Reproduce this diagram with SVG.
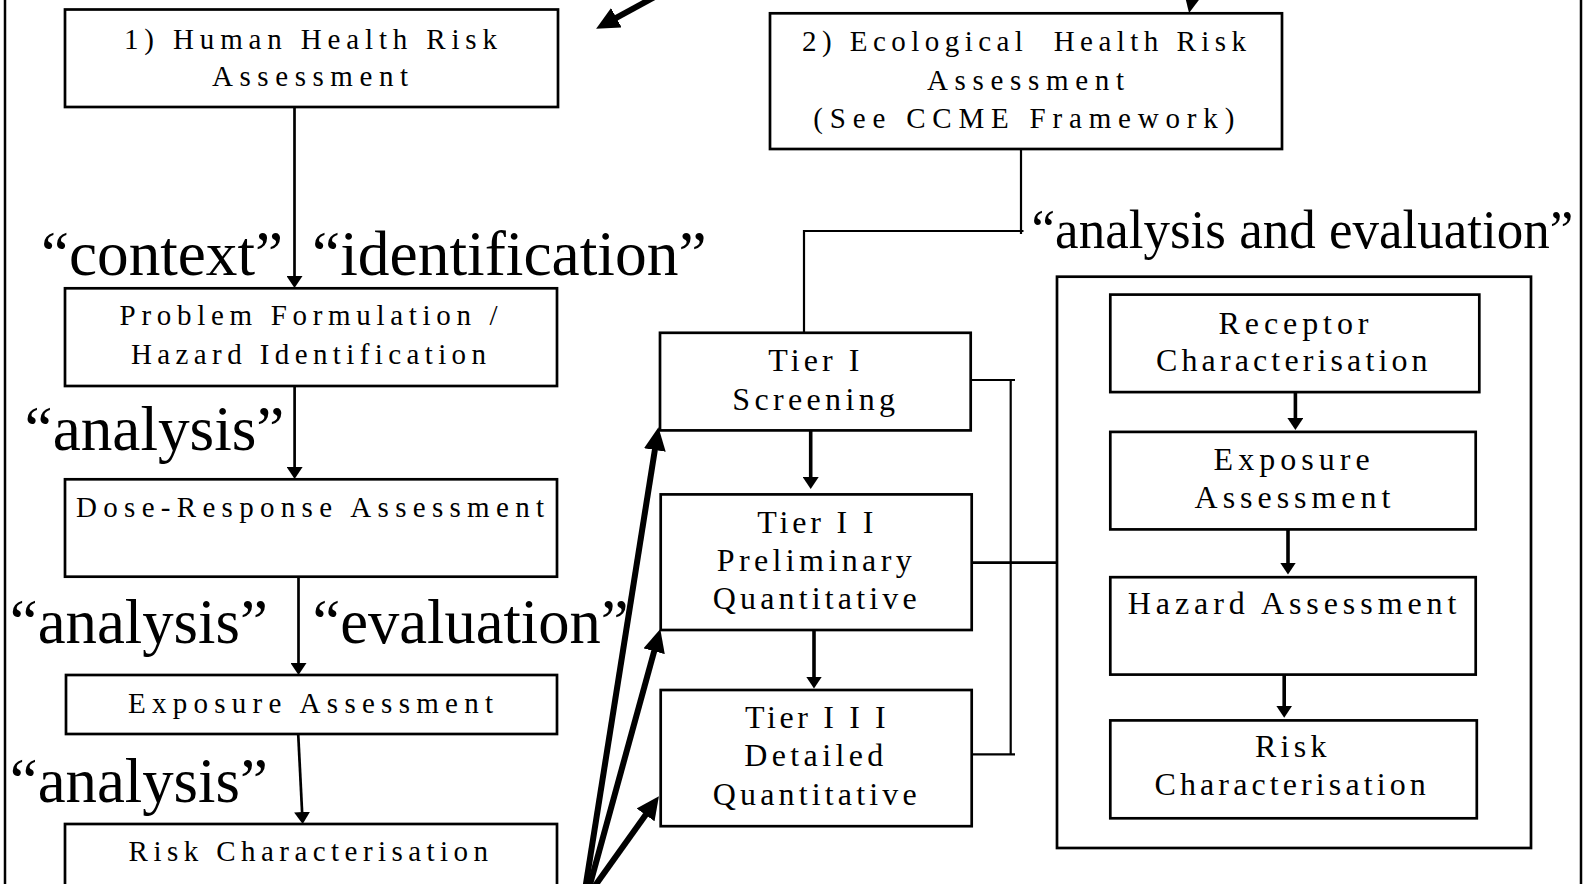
<svg xmlns="http://www.w3.org/2000/svg" width="1591" height="884" viewBox="0 0 1591 884">
  <defs>
    <style>
      .box { fill: #fff; stroke: #000; stroke-width: 2.7; }
      .bt { font-family: "Liberation Serif", "Times New Roman", serif; font-size: 29px; fill: #000; white-space: pre; }
      .bt2 { font-family: "Liberation Serif", "Times New Roman", serif; font-size: 32px; fill: #000; }
      .lbl { font-family: "Liberation Serif", "Times New Roman", serif; font-size: 64px; fill: #000; }
      .lbl2 { font-family: "Liberation Serif", "Times New Roman", serif; font-size: 54px; fill: #000; }
      .ln { fill: none; stroke: #000; stroke-width: 2.7; }
      .thin { fill: none; stroke: #000; stroke-width: 2.2; }
      .arr { fill: none; stroke: #000; stroke-width: 2.7; marker-end: url(#head); }
      .arr3 { fill: none; stroke: #000; stroke-width: 3.6; marker-end: url(#head); }
      .big { fill: none; stroke: #000; stroke-width: 6; marker-end: url(#bighead); }
      .frame { stroke: #000; stroke-width: 2.5; }
    </style>
    <marker id="head" markerUnits="userSpaceOnUse" markerWidth="12" markerHeight="16" refX="8" refY="8" orient="auto">
      <path d="M0,0 L12,8 L0,16 z" fill="#000"/>
    </marker>
    <marker id="bighead" markerUnits="userSpaceOnUse" markerWidth="23" markerHeight="22" refX="8" refY="11" orient="auto">
      <path d="M0,0 L23,11 L0,22 z" fill="#000"/>
    </marker>
  </defs>

  <rect width="1591" height="884" fill="#fff"/>

  <!-- outer frame edges -->
  <line class="frame" x1="5" y1="0" x2="5" y2="884"/>
  <line class="frame" x1="1581" y1="0" x2="1581" y2="884"/>

  <!-- human health chain -->
  <g id="human-health">
    <rect class="box" x="65" y="9.5" width="493" height="97.5"/>
    <text class="bt" x="124" y="48.5" textLength="373" lengthAdjust="spacing">1) Human Health Risk</text>
    <text class="bt" x="212" y="86" textLength="196" lengthAdjust="spacing">Assessment</text>
  </g>
  <g id="problem-formulation">
    <rect class="box" x="65" y="288.3" width="492" height="97.7"/>
    <text class="bt" x="119.6" y="325" textLength="378" lengthAdjust="spacing">Problem Formulation /</text>
    <text class="bt" x="131" y="364" textLength="355" lengthAdjust="spacing">Hazard Identification</text>
  </g>
  <g id="dose-response">
    <rect class="box" x="65" y="479.3" width="492" height="97.4"/>
    <text class="bt" x="76" y="517.3" textLength="468" lengthAdjust="spacing">Dose-Response Assessment</text>
  </g>
  <g id="exposure-left">
    <rect class="box" x="66" y="675" width="491" height="59"/>
    <text class="bt" x="128" y="713.3" textLength="365" lengthAdjust="spacing">Exposure Assessment</text>
  </g>
  <g id="risk-left">
    <rect class="box" x="65" y="824" width="492" height="70"/>
    <text class="bt" x="128.6" y="860.7" textLength="359.4" lengthAdjust="spacing">Risk Characterisation</text>
  </g>

  <!-- ecological assessment -->
  <g id="ecological">
    <rect class="box" x="770" y="13.3" width="512" height="135.7"/>
    <text class="bt" x="802" y="50.7" textLength="444" lengthAdjust="spacing">2) Ecological  Health Risk</text>
    <text class="bt" x="927" y="90" textLength="197" lengthAdjust="spacing">Assessment</text>
    <text class="bt" x="813.3" y="128.3" textLength="421" lengthAdjust="spacing">(See CCME Framework)</text>
  </g>

  <!-- tiers -->
  <g id="tier-1">
    <rect class="box" x="660" y="332.8" width="310.7" height="97.6"/>
    <text class="bt2" x="768.3" y="370.8" textLength="91" lengthAdjust="spacing">Tier I</text>
    <text class="bt2" x="732.3" y="409.9" textLength="162.7" lengthAdjust="spacing">Screening</text>
  </g>
  <g id="tier-2">
    <rect class="box" x="660.7" y="494.4" width="311" height="135.6"/>
    <text class="bt2" x="757.3" y="532.8" textLength="116" lengthAdjust="spacing">Tier I I</text>
    <text class="bt2" x="716.7" y="570.8" textLength="195" lengthAdjust="spacing">Preliminary</text>
    <text class="bt2" x="712.7" y="609.1" textLength="204" lengthAdjust="spacing">Quantitative</text>
  </g>
  <g id="tier-3">
    <rect class="box" x="660.7" y="690" width="311" height="136.2"/>
    <text class="bt2" x="745" y="728.3" textLength="140.7" lengthAdjust="spacing">Tier I I I</text>
    <text class="bt2" x="744.3" y="766.3" textLength="139" lengthAdjust="spacing">Detailed</text>
    <text class="bt2" x="712.7" y="804.6" textLength="204" lengthAdjust="spacing">Quantitative</text>
  </g>

  <!-- ecological analysis steps -->
  <g id="analysis-frame">
    <rect class="box" x="1057" y="276.7" width="474" height="571.3"/>
  </g>
  <g id="receptor">
    <rect class="box" x="1110.3" y="294.6" width="369" height="97.5"/>
    <text class="bt2" x="1218.5" y="333.6" textLength="150" lengthAdjust="spacing">Receptor</text>
    <text class="bt2" x="1156" y="370.6" textLength="271.6" lengthAdjust="spacing">Characterisation</text>
  </g>
  <g id="exposure-right">
    <rect class="box" x="1110.3" y="431.9" width="365.4" height="97.5"/>
    <text class="bt2" x="1213.6" y="470.1" textLength="156" lengthAdjust="spacing">Exposure</text>
    <text class="bt2" x="1194.6" y="507.9" textLength="195.7" lengthAdjust="spacing">Assessment</text>
  </g>
  <g id="hazard">
    <rect class="box" x="1110.3" y="577.2" width="365.4" height="97.4"/>
    <text class="bt2" x="1127.8" y="614.2" textLength="328.6" lengthAdjust="spacing">Hazard Assessment</text>
  </g>
  <g id="risk-right">
    <rect class="box" x="1110.3" y="720.4" width="366.5" height="97.9"/>
    <text class="bt2" x="1255" y="757.4" textLength="71.4" lengthAdjust="spacing">Risk</text>
    <text class="bt2" x="1154.5" y="795.2" textLength="271.3" lengthAdjust="spacing">Characterisation</text>
  </g>

  <!-- connectors -->
  <g id="connectors">
    <line class="arr" x1="294.5" y1="107" x2="294.5" y2="284"/>
    <line class="arr" x1="294.6" y1="386" x2="294.6" y2="475"/>
    <line class="arr" x1="298.5" y1="576.7" x2="298.5" y2="671"/>
    <line class="arr" x1="298.2" y1="734" x2="302.5" y2="820"/>

    <line class="arr3" x1="810.7" y1="430.4" x2="810.7" y2="485"/>
    <line class="arr3" x1="814" y1="630" x2="814" y2="684.5"/>
    <line class="arr3" x1="1295.4" y1="392" x2="1295.4" y2="426"/>
    <line class="arr3" x1="1288" y1="529.4" x2="1288" y2="570.5"/>
    <line class="arr3" x1="1284.2" y1="674.6" x2="1284.2" y2="713.7"/>

    <polyline class="thin" points="1021,149 1021,234"/>
    <polyline class="thin" points="1023.5,231 804,231 804,332.8"/>

    <line class="thin" x1="971" y1="380" x2="1015" y2="380"/>
    <line class="thin" x1="1010.7" y1="380" x2="1010.7" y2="754.4"/>
    <line class="thin" x1="971" y1="754.4" x2="1015" y2="754.4"/>
    <line class="ln" x1="972" y1="562.6" x2="1057" y2="562.6"/>

    <line class="big" x1="585" y1="890" x2="656.1" y2="442.1"/>
    <line class="big" x1="588.5" y1="890" x2="656.3" y2="643.5"/>
    <line class="big" x1="592" y1="890" x2="650.2" y2="808.4"/>
    <line class="big" x1="660" y1="-6" x2="609.3" y2="21.6"/>
    <line class="big" x1="1200" y1="-40" x2="1192.1" y2="-1.8"/>
  </g>

  <!-- stage labels -->
  <g id="labels">
    <text class="lbl" x="41" y="275" textLength="242" lengthAdjust="spacingAndGlyphs">“context”</text>
    <text class="lbl" x="312" y="275" textLength="394.6" lengthAdjust="spacingAndGlyphs">“identification”</text>
    <text class="lbl" x="24.6" y="450" textLength="259.8" lengthAdjust="spacingAndGlyphs">“analysis”</text>
    <text class="lbl" x="9.8" y="643" textLength="258" lengthAdjust="spacingAndGlyphs">“analysis”</text>
    <text class="lbl" x="312.5" y="643" textLength="316" lengthAdjust="spacingAndGlyphs">“evaluation”</text>
    <text class="lbl" x="9.8" y="801.7" textLength="258" lengthAdjust="spacingAndGlyphs">“analysis”</text>
    <text class="lbl2" x="1031.6" y="248.3" textLength="541.7" lengthAdjust="spacingAndGlyphs">“analysis and evaluation”</text>
  </g>
</svg>
